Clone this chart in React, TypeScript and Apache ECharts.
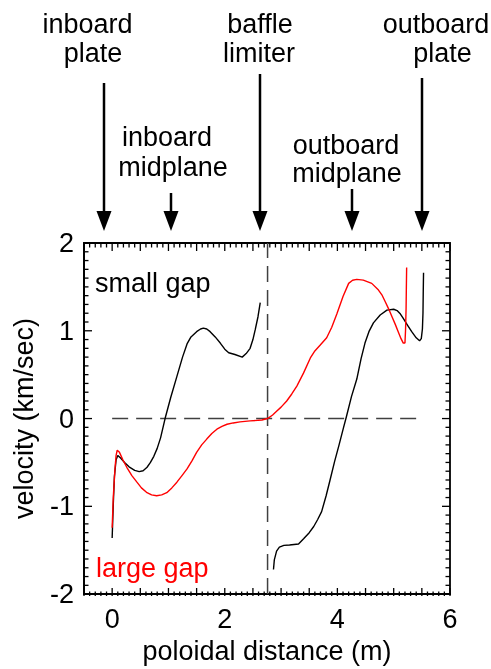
import React, { useEffect, useRef } from "react";
import * as echarts from "echarts";

// poloidal distance (m), velocity (km/sec)
const smallGapInboard: [number, number][] = [
  [0.0, -1.36], [0.02, -0.98], [0.04, -0.66], [0.07, -0.47], [0.1, -0.42], [0.15, -0.45],
  [0.22, -0.5], [0.3, -0.55], [0.4, -0.59], [0.48, -0.605], [0.55, -0.595], [0.62, -0.555],
  [0.68, -0.5], [0.74, -0.43], [0.8, -0.34], [0.86, -0.22], [0.94, 0.0], [1.04, 0.24],
  [1.15, 0.48], [1.25, 0.7], [1.33, 0.85], [1.4, 0.93], [1.5, 0.99], [1.57, 1.02],
  [1.62, 1.03], [1.68, 1.02], [1.74, 0.99], [1.83, 0.93], [1.92, 0.86], [2.0, 0.79],
  [2.07, 0.75], [2.18, 0.73], [2.31, 0.7], [2.38, 0.74], [2.45, 0.8], [2.5, 0.9],
  [2.54, 1.01], [2.59, 1.16], [2.63, 1.32],
];

const smallGapOutboard: [number, number][] = [
  [2.865, -1.72], [2.88, -1.61], [2.92, -1.51], [2.97, -1.465], [3.05, -1.445], [3.15, -1.44],
  [3.31, -1.43], [3.4, -1.37], [3.5, -1.3], [3.58, -1.23], [3.65, -1.15], [3.72, -1.06],
  [3.8, -0.88], [3.87, -0.7], [3.95, -0.49], [4.03, -0.3], [4.11, -0.1], [4.16, 0.02],
  [4.25, 0.25], [4.345, 0.45], [4.42, 0.68], [4.49, 0.86], [4.56, 0.99], [4.64, 1.09],
  [4.76, 1.18], [4.88, 1.235], [5.0, 1.245], [5.06, 1.23], [5.12, 1.19], [5.17, 1.14],
  [5.25, 1.06], [5.32, 0.99], [5.4, 0.92], [5.46, 0.886], [5.49, 0.91], [5.51, 1.02],
  [5.52, 1.2], [5.525, 1.45], [5.53, 1.66],
];

const largeGap: [number, number][] = [
  [0.0, -1.245], [0.02, -0.9], [0.05, -0.575], [0.07, -0.42], [0.09, -0.36], [0.13, -0.385],
  [0.19, -0.47], [0.26, -0.555], [0.35, -0.65], [0.44, -0.725], [0.52, -0.79], [0.61, -0.84],
  [0.7, -0.87], [0.79, -0.88], [0.88, -0.87], [0.97, -0.845], [1.06, -0.79], [1.15, -0.725],
  [1.24, -0.65], [1.33, -0.574], [1.42, -0.48], [1.5, -0.385], [1.59, -0.3], [1.68, -0.234],
  [1.77, -0.17], [1.86, -0.121], [1.95, -0.09], [2.04, -0.065], [2.15, -0.05], [2.27, -0.038],
  [2.45, -0.027], [2.66, -0.016], [2.76, 0.0], [2.85, 0.04], [2.925, 0.086], [3.0, 0.13],
  [3.1, 0.2], [3.19, 0.28], [3.28, 0.37], [3.4, 0.52], [3.52, 0.69], [3.6, 0.77],
  [3.7, 0.84], [3.81, 0.92], [3.9, 1.04], [3.99, 1.19], [4.1, 1.39], [4.2, 1.54],
  [4.27, 1.575], [4.345, 1.585], [4.46, 1.577], [4.61, 1.54], [4.73, 1.464], [4.79, 1.41],
  [4.85, 1.33], [4.91, 1.25], [4.97, 1.16], [5.03, 1.07], [5.08, 0.99], [5.13, 0.91],
  [5.17, 0.86], [5.2, 0.86], [5.21, 1.0], [5.22, 1.25], [5.225, 1.5], [5.23, 1.72],
];

const zeroLine: [number, number][] = [[0, 0], [5.52, 0]];
const baffleLine: [number, number][] = [[2.76, -2], [2.76, 2]];

const xLabelValues = [0, 2, 4, 6];
const yLabelValues = [-2, -1, 0, 1, 2];

const X_MIN = -0.5;
const X_MAX = 6;
const Y_MIN = -2;
const Y_MAX = 2;

// plot frame in pixels
const GRID = { left: 84, right: 41, top: 243, bottom: 73 };
const W = 491;
const H = 669;

// top annotations: label lines and the arrow below each
const annotations = [
  { lines: [["inboard", 87.5, 24], ["plate", 93, 53]], x: 104, top: 83 },
  { lines: [["inboard", 167, 137], ["midplane", 173, 167]], x: 171, top: 193 },
  { lines: [["baffle", 260, 24], ["limiter", 259, 53]], x: 260, top: 74 },
  { lines: [["outboard", 346, 145], ["midplane", 347, 173]], x: 352, top: 189 },
  { lines: [["outboard", 436, 24], ["plate", 442.5, 53]], x: 422, top: 78 },
];

const FONT = "'Liberation Sans', Arial, Helvetica, sans-serif";
const FS = 27;

const isAt = (list: number[], v: number) => list.some((t) => Math.abs(t - v) < 1e-6);

function valueAxis(kind: "x" | "y"): any {
  const isX = kind === "x";
  const list = isX ? xLabelValues : yLabelValues;
  return {
    type: "value",
    min: isX ? X_MIN : Y_MIN,
    max: isX ? X_MAX : Y_MAX,
    interval: isX ? 0.5 : 1,
    axisLine: { show: true, onZero: false, lineStyle: { color: "#000", width: 1.8 } },
    axisTick: { show: false },
    minorTick: { show: false },
    splitLine: { show: false },
    axisLabel: {
      show: true,
      fontSize: FS,
      color: "#000",
      fontFamily: FONT,
      margin: isX ? 11 : 10,
      formatter: (v: number) => (isAt(list, v) ? String(v) : ""),
    },
    name: isX ? "poloidal distance (m)" : "velocity (km/sec)",
    nameLocation: "middle",
    nameGap: isX ? 41 : 47,
    nameTextStyle: { fontSize: FS, color: "#000", fontFamily: FONT },
  };
}

export default function App() {
  const ref = useRef<HTMLDivElement>(null);

  useEffect(() => {
    if (!ref.current) return;
    const chart = echarts.init(ref.current, undefined, { renderer: "svg" });

    const curve = (data: [number, number][], color: string) => ({
      type: "line",
      data,
      symbol: "none",
      smooth: false,
      lineStyle: { color, width: 1.4 },
      z: 3,
    });
    const dashed = (data: [number, number][]) => ({
      type: "line",
      data,
      symbol: "none",
      lineStyle: { color: "#404040", width: 1.5, type: [16, 8] },
      z: 2,
    });

    chart.setOption({
      animation: false,
      grid: { ...GRID, show: true, borderColor: "#000", borderWidth: 1.8, backgroundColor: "transparent" },
      textStyle: { fontFamily: FONT },
      xAxis: valueAxis("x"),
      yAxis: valueAxis("y"),
      series: [
        dashed(zeroLine),
        dashed(baffleLine),
        curve(smallGapInboard, "#000"),
        curve(smallGapOutboard, "#000"),
        curve(largeGap, "#ff0000"),
      ],
    });

    const graphic: any[] = [];

    // inward frame ticks on all four sides, placed through the grid's scales
    const gl = GRID.left;
    const gr = W - GRID.right;
    const gt = GRID.top;
    const gb = H - GRID.bottom;
    const toPx = (x: number, y: number): number[] => {
      const p = chart.convertToPixel({ gridIndex: 0 }, [x, y]) as any;
      if (p && isFinite(p[0]) && isFinite(p[1])) return p;
      return [
        gl + ((x - X_MIN) / (X_MAX - X_MIN)) * (gr - gl),
        gb - ((y - Y_MIN) / (Y_MAX - Y_MIN)) * (gb - gt),
      ];
    };
    const tickStyle = { stroke: "#000", lineWidth: 1.3 };
    for (let i = Math.round(X_MIN * 10); i <= Math.round(X_MAX * 10); i++) {
      const len = i % 5 === 0 ? 8 : 4.5;
      const px = toPx(i / 10, 0)[0];
      graphic.push({ type: "line", shape: { x1: px, y1: gb, x2: px, y2: gb - len }, style: tickStyle, z: 10 });
      graphic.push({ type: "line", shape: { x1: px, y1: gt, x2: px, y2: gt + len }, style: tickStyle, z: 10 });
    }
    for (let i = Math.round(Y_MIN * 10); i <= Math.round(Y_MAX * 10); i++) {
      const len = i % 10 === 0 ? 8 : 4.5;
      const py = toPx(0, i / 10)[1];
      graphic.push({ type: "line", shape: { x1: gl, y1: py, x2: gl + len, y2: py }, style: tickStyle, z: 10 });
      graphic.push({ type: "line", shape: { x1: gr, y1: py, x2: gr - len, y2: py }, style: tickStyle, z: 10 });
    }

    const tipY = 231;
    const headH = 20;
    const headW = 7.5;
    annotations.forEach((a) => {
      a.lines.forEach(([t, x, y]) => {
        graphic.push({
          type: "text",
          x: x as number,
          y: y as number,
          style: {
            text: t as string,
            font: `${FS}px ${FONT}`,
            fill: "#000",
            textAlign: "center",
            textVerticalAlign: "middle",
          },
        });
      });
      graphic.push({
        type: "line",
        shape: { x1: a.x, y1: a.top, x2: a.x, y2: tipY - headH + 2 },
        style: { stroke: "#000", lineWidth: 2.5 },
      });
      graphic.push({
        type: "polygon",
        shape: {
          points: [
            [a.x - headW, tipY - headH],
            [a.x + headW, tipY - headH],
            [a.x, tipY],
          ],
        },
        style: { fill: "#000" },
      });
    });
    graphic.push({
      type: "text",
      x: 95,
      y: 283,
      style: { text: "small gap", font: `${FS}px ${FONT}`, fill: "#000", textVerticalAlign: "middle" },
    });
    graphic.push({
      type: "text",
      x: 96,
      y: 568,
      style: { text: "large gap", font: `${FS}px ${FONT}`, fill: "#ff0000", textVerticalAlign: "middle" },
    });

    chart.setOption({ graphic });

    return () => chart.dispose();
  }, []);

  return <div ref={ref} style={{ position: "fixed", left: 0, top: 0, width: W, height: H }} />;
}
